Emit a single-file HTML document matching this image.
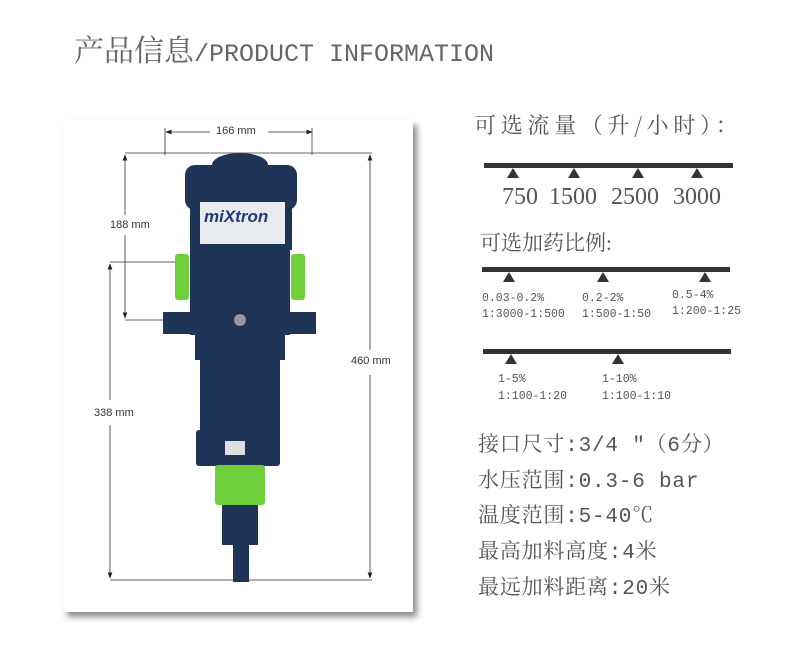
<!DOCTYPE html>
<html><head><meta charset="utf-8"><style>
body{margin:0;width:791px;height:664px;background:#fff;position:relative;overflow:hidden;font-family:"Liberation Serif","Noto Serif CJK SC",serif;color:#555}
.t{position:absolute;white-space:nowrap;line-height:1}
.m{font-family:"Liberation Mono","Noto Serif CJK SC",monospace}
</style></head><body>
<div class="t" style="left:74px;top:37px;font-size:30px;color:#666">产品信息<span class="m" style="font-size:25px;letter-spacing:0px">/PRODUCT INFORMATION</span></div>

<div style="position:absolute;left:63px;top:120px;width:350px;height:492px;background:#fff;box-shadow:4px 5px 6px rgba(0,0,0,0.45)"></div>
<svg style="position:absolute;left:0;top:0" width="791" height="664">
<defs><marker id="a" markerWidth="8" markerHeight="6" refX="7" refY="3" orient="auto"><path d="M0,0L8,3L0,6z" fill="#222"/></marker></defs>
<g stroke="#333" stroke-width="0.8" fill="none">
<line x1="210" y1="132" x2="166" y2="132" marker-end="url(#a)"/><line x1="268" y1="132" x2="312" y2="132" marker-end="url(#a)"/>
<line x1="165" y1="128" x2="165" y2="155"/><line x1="312" y1="128" x2="312" y2="155"/>
<line x1="125" y1="153" x2="372" y2="153"/>
<line x1="125" y1="215" x2="125" y2="155" marker-end="url(#a)"/><line x1="125" y1="235" x2="125" y2="318" marker-end="url(#a)"/>
<line x1="125" y1="320" x2="165" y2="320"/>
<line x1="110" y1="262" x2="175" y2="262"/>
<line x1="110" y1="400" x2="110" y2="264" marker-end="url(#a)"/><line x1="110" y1="425" x2="110" y2="578" marker-end="url(#a)"/>
<line x1="110" y1="580" x2="372" y2="580"/>
<line x1="370" y1="350" x2="370" y2="155" marker-end="url(#a)"/><line x1="370" y1="375" x2="370" y2="578" marker-end="url(#a)"/>
</g>
<g fill="#1f3558">
<ellipse cx="240" cy="165" rx="28" ry="12"/>
<rect x="185" y="165" width="112" height="45" rx="10"/>
<rect x="190" y="200" width="102" height="50"/>
<rect x="190" y="250" width="100" height="85"/>
<rect x="163" y="312" width="30" height="22"/><rect x="288" y="312" width="28" height="22"/>
<rect x="195" y="335" width="90" height="25"/>
<rect x="200" y="355" width="80" height="78"/>
<rect x="196" y="430" width="84" height="36" rx="3"/>
<rect x="222" y="503" width="36" height="42"/>
<rect x="233" y="545" width="16" height="37"/>
</g>
<rect x="200" y="202" width="85" height="42" fill="#e8ebf0"/>
<text x="204" y="222" font-family="Liberation Sans" font-weight="bold" font-style="italic" font-size="17" fill="#1f3a7a">miXtron</text>
<rect x="225" y="441" width="20" height="14" fill="#ddd"/>
<g fill="#6fcf3a"><rect x="175" y="254" width="14" height="46" rx="3"/><rect x="291" y="254" width="14" height="46" rx="3"/><rect x="215" y="465" width="50" height="40" rx="3"/></g>
<circle cx="240" cy="320" r="6" fill="#999"/>
<g fill="#333">
<rect x="484" y="163" width="249" height="5"/>
<path d="M507,178l6,-10l6,10z M568,178l6,-10l6,10z M632,178l6,-10l6,10z M691,178l6,-10l6,10z"/>
<rect x="482" y="267" width="248" height="5"/>
<path d="M503,282l6,-10l6,10z M597,282l6,-10l6,10z M699,282l6,-10l6,10z"/>
<rect x="483" y="349" width="248" height="5"/>
<path d="M505,364l6,-10l6,10z M612,364l6,-10l6,10z"/>
</g>
</svg>
<div class="t" style="left:216px;top:126px;font-family:'Liberation Sans';font-size:11px;color:#333">166 mm</div>
<div class="t" style="left:110px;top:220px;font-family:'Liberation Sans';font-size:11px;color:#333">188 mm</div>
<div class="t" style="left:94px;top:408px;font-family:'Liberation Sans';font-size:11px;color:#333">338 mm</div>
<div class="t" style="left:351px;top:356px;font-family:'Liberation Sans';font-size:11px;color:#333">460 mm</div>

<div class="t" style="left:474px;top:114px;font-size:22px;font-family:'Noto Serif CJK SC',serif;letter-spacing:4.7px">可选流量（升/小时）：</div>
<div class="t" style="left:502px;top:185px;font-size:24px">750</div>
<div class="t" style="left:549px;top:185px;font-size:24px">1500</div>
<div class="t" style="left:611px;top:185px;font-size:24px">2500</div>
<div class="t" style="left:673px;top:185px;font-size:24px">3000</div>
<div class="t" style="left:480px;top:233px;font-size:21px">可选加药比例:</div>
<div class="t m" style="left:482px;top:291px;font-size:11.5px;line-height:16px">0.03-0.2%<br>1:3000-1:500</div>
<div class="t m" style="left:582px;top:291px;font-size:11.5px;line-height:16px">0.2-2%<br>1:500-1:50</div>
<div class="t m" style="left:672px;top:288px;font-size:11.5px;line-height:16px">0.5-4%<br>1:200-1:25</div>
<div class="t m" style="left:498px;top:371px;font-size:11.5px;line-height:17px">1-5%<br>1:100-1:20</div>
<div class="t m" style="left:602px;top:371px;font-size:11.5px;line-height:17px">1-10%<br>1:100-1:10</div>
<div class="t m" style="left:478px;top:429px;font-size:21px;line-height:35.7px;color:#555;letter-spacing:0.8px">接口尺寸:3/4 ″（6分）<br>水压范围:0.3-6 bar<br>温度范围:5-40℃<br>最高加料高度:4米<br>最远加料距离:20米</div>
</body></html>
